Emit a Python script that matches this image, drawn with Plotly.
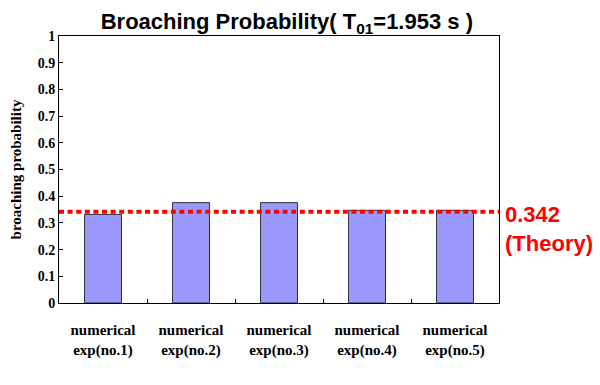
import plotly.graph_objects as go

categories = ["numerical<br>exp(no.1)", "numerical<br>exp(no.2)", "numerical<br>exp(no.3)",
              "numerical<br>exp(no.4)", "numerical<br>exp(no.5)"]
probabilities = [0.332, 0.376, 0.376, 0.347, 0.347]
theory_value = 0.342
theory_label = "0.342<br>(Theory)"

fig = go.Figure()
fig.add_trace(go.Bar(
    x=categories, y=probabilities, width=0.42,
    marker=dict(color="#9999FF", line=dict(color="#333333", width=1)),
    showlegend=False,
))

fig.add_shape(type="line", xref="paper", yref="y", x0=0, x1=1,
              y0=theory_value, y1=theory_value,
              line=dict(color="#FF0000", width=4, dash="5px,3.6px"), layer="above")

fig.add_annotation(xref="paper", yref="y", x=1.0, y=theory_value, xanchor="left", yanchor="top",
                   xshift=4, yshift=12, align="left", showarrow=False,
                   text=theory_label,
                   font=dict(family="Liberation Sans, Arial", size=22, color="#FF0000", weight="bold"))

# page body has an 8px margin: figure sized to the visible window area
fig.update_layout(
    width=592, height=377,
    margin=dict(l=51, r=101, t=28, b=82),
    paper_bgcolor="white", plot_bgcolor="white",
    title=dict(text="Broaching Probability( T<sub>01</sub>=1.953 s )",
               x=0.471, xanchor="center", y=0.964, yanchor="middle",
               font=dict(family="Liberation Sans, Arial", size=22, color="black", weight="bold")),
    bargap=0.58,
)
fig.update_yaxes(range=[0, 1], dtick=0.1, ticks="inside", ticklen=4, tickcolor="black",
                 showline=True, linecolor="black", linewidth=1, mirror=True, showgrid=False,
                 zeroline=False, automargin=False,
                 tickfont=dict(family="Liberation Serif, Times New Roman", size=14, color="black", weight="bold"),
                 title=dict(text="broaching probability", standoff=14,
                            font=dict(family="Liberation Serif, Times New Roman", size=15, color="black", weight="bold")))
fig.update_xaxes(ticks="inside", tickson="boundaries", ticklen=4, tickcolor="black",
                 showline=True, linecolor="black", linewidth=1, mirror=True, showgrid=False,
                 ticklabelstandoff=13, automargin=False,
                 tickfont=dict(family="Liberation Serif, Times New Roman", size=15, color="black", weight="bold"))

fig.write_html("out.html")
